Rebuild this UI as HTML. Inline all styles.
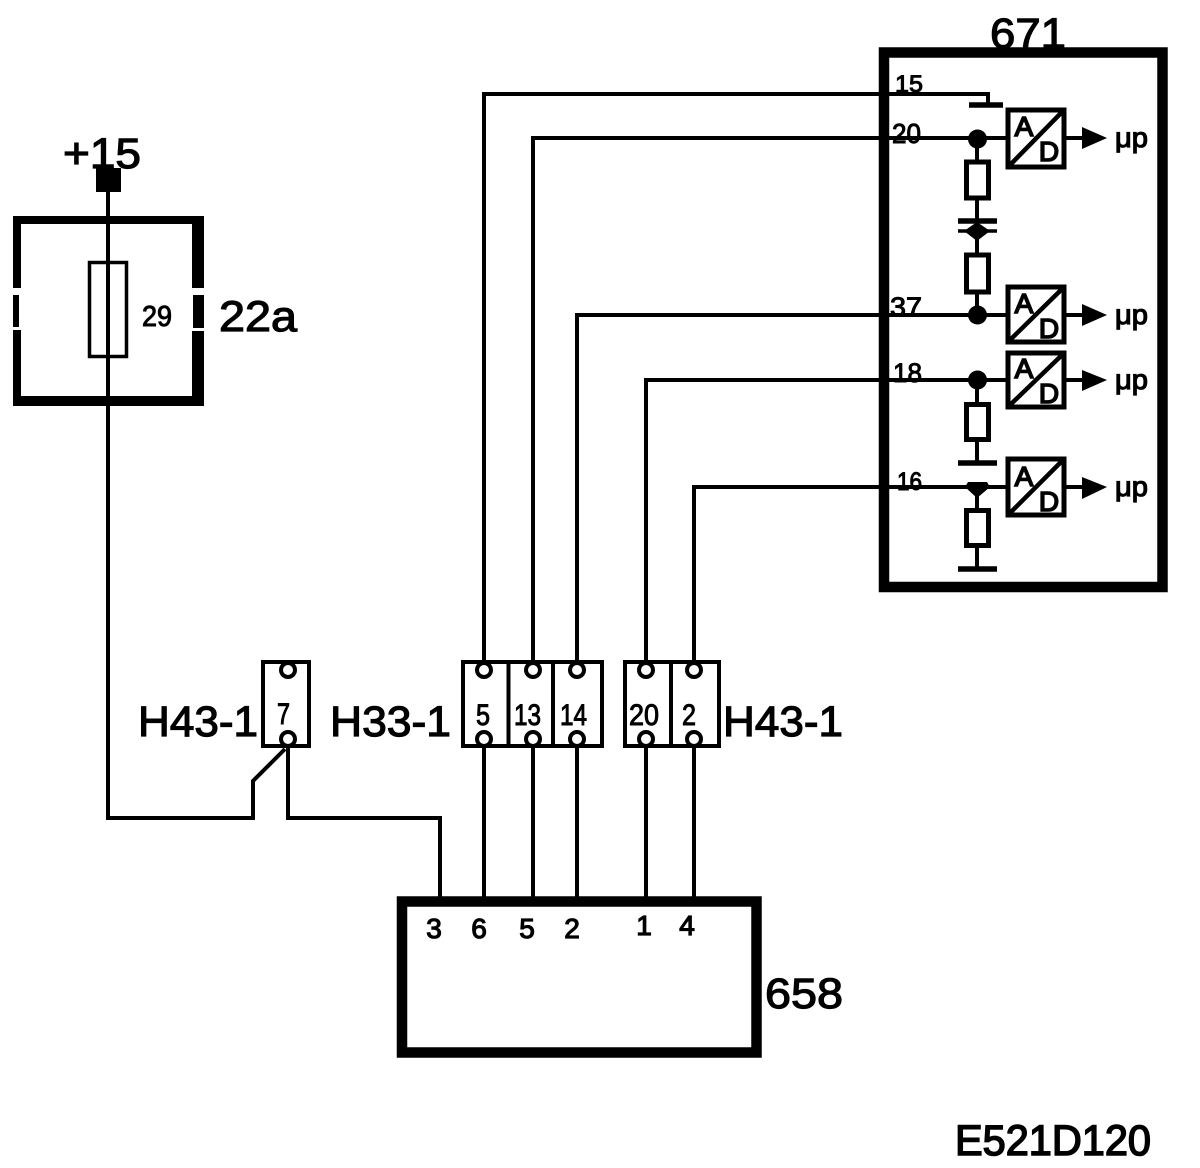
<!DOCTYPE html>
<html><head><meta charset="utf-8"><style>
html,body{margin:0;padding:0;background:#fff}
svg{display:block}
text{font-family:"Liberation Sans",sans-serif;fill:#000}
.b{stroke:#000;stroke-width:1.6px}
.m{stroke:#000;stroke-width:1.2px}
.s{stroke:#000;stroke-width:1px}
</style></head><body>
<svg width="1200" height="1168" viewBox="0 0 1200 1168" xmlns="http://www.w3.org/2000/svg">
<rect width="1200" height="1168" fill="#fff"/>

<!-- large labels -->
<text x="990" y="48" font-size="43" textLength="76" lengthAdjust="spacingAndGlyphs" class="m">671</text>
<text x="63" y="168" font-size="43" textLength="78" lengthAdjust="spacingAndGlyphs" class="m">+15</text>
<text x="219" y="331" font-size="43" textLength="78" lengthAdjust="spacingAndGlyphs" class="m">22a</text>
<text x="138" y="736" font-size="43" textLength="120" lengthAdjust="spacingAndGlyphs" class="m">H43-1</text>
<text x="330" y="736" font-size="43" textLength="121" lengthAdjust="spacingAndGlyphs" class="m">H33-1</text>
<text x="723" y="736" font-size="43" textLength="120" lengthAdjust="spacingAndGlyphs" class="m">H43-1</text>
<text x="765" y="1008" font-size="43" textLength="78" lengthAdjust="spacingAndGlyphs" class="m">658</text>
<text x="955" y="1155" font-size="43" textLength="196" lengthAdjust="spacingAndGlyphs" class="b">E521D120</text>

<!-- fuse box 22a -->
<g fill="#000">
<rect x="13" y="216" width="191" height="8"/>
<rect x="13" y="216" width="8" height="72"/>
<rect x="13" y="295" width="6" height="32"/>
<rect x="13" y="330" width="8" height="76"/>
<rect x="192" y="216" width="12" height="72"/>
<rect x="193" y="295" width="11" height="33"/>
<rect x="192" y="331" width="12" height="75"/>
<rect x="13" y="396" width="191" height="10"/>
</g>

<g fill="none" stroke="#000" stroke-linejoin="miter">
<!-- box 671 -->
<rect x="884" y="52.5" width="278.500" height="534.500" stroke-width="10.500"/>
<rect x="89.500" y="262.500" width="37" height="94" stroke-width="3.500"/>
<!-- 658 -->
<rect x="402" y="901.500" width="354.500" height="151" stroke-width="10.500"/>
<!-- wires -->
<g stroke-width="4">
<path d="M108 190V818H253V781L285 749"/>
<path d="M288 746V818H440V897"/>
<path d="M484 663V94H988V104"/>
<path d="M533 663V138H1006"/>
<path d="M577 663V315H1006"/>
<path d="M646 663V380H1006"/>
<path d="M694 663V487H1006"/>
<path d="M484 746V897M533 746V897M577 746V897M646 746V897M694 746V897"/>
<path d="M977 140V161M977 199V221M977 221V253M977 293V315M977 380V403M977 441V463M977 487V509M977 547V569"/>
<path d="M1066 138H1084M1066 315H1084M1066 380H1084M1066 487H1084"/>
</g>
<!-- grounds and cap -->
<g stroke-width="5.500">
<path d="M969 105H1003"/>
<path d="M958 221H997"/>
<path d="M958 463H997"/>
<path d="M958 569H997"/>
</g>
<path d="M958 231H997" stroke-width="3.500"/>
<!-- resistors -->
<g stroke-width="5" fill="#fff">
<rect x="966.500" y="162" width="22" height="36"/>
<rect x="966.500" y="255" width="22" height="37"/>
<rect x="966.500" y="404.500" width="22" height="35"/>
<rect x="966.500" y="510.500" width="22" height="35"/>
</g>
<!-- A/D boxes -->
<g stroke-width="5">
<rect x="1008" y="110" width="56" height="57"/>
<rect x="1008" y="287" width="56" height="55"/>
<rect x="1008" y="353" width="56" height="54"/>
<rect x="1008" y="459" width="56" height="56"/>
<path d="M1010 165L1062 112M1010 340L1062 289M1010 405L1062 355M1010 513L1062 461" stroke-width="4.500"/>
</g>
<!-- connectors -->
<g stroke-width="4">
<rect x="263" y="662" width="46" height="84"/>
<rect x="463" y="662" width="139" height="84"/>
<path d="M508.500 662V746M553 662V746"/>
<rect x="625" y="662" width="94" height="84"/>
<path d="M671 662V746"/>
</g>
<g stroke-width="4" fill="#fff">
<circle cx="288" cy="670" r="7"/><circle cx="288" cy="739" r="7"/>
<circle cx="484" cy="670" r="7"/><circle cx="484" cy="739" r="7"/>
<circle cx="533" cy="670" r="7"/><circle cx="533" cy="739" r="7"/>
<circle cx="577" cy="670" r="7"/><circle cx="577" cy="739" r="7"/>
<circle cx="646" cy="670" r="7"/><circle cx="646" cy="739" r="7"/>
<circle cx="694" cy="670" r="7"/><circle cx="694" cy="739" r="7"/>
</g>
</g>

<g fill="#000">
<rect x="96" y="168" width="25" height="24"/>
<!-- junction nodes -->
<circle cx="977.500" cy="139" r="9.500"/>
<path d="M977 222L990 231L977 241L964 231Z"/>
<circle cx="977.500" cy="315" r="9.500"/>
<circle cx="977.500" cy="380" r="9.500"/>
<path d="M968 482H987L990 487L977 498L965 487Z"/>
<!-- arrows -->
<path d="M1082 127L1107 138L1082 149Z"/>
<path d="M1082 304L1107 315L1082 326Z"/>
<path d="M1082 370L1107 380L1082 391Z"/>
<path d="M1082 477L1107 487L1082 499Z"/>
</g>

<!-- fuse value -->
<text x="142" y="326" font-size="29" textLength="30" lengthAdjust="spacingAndGlyphs" class="s">29</text>

<!-- connector labels -->
<g font-size="30" class="s">
<text x="277" y="724" textLength="13" lengthAdjust="spacingAndGlyphs">7</text>
<text x="476" y="725" textLength="14" lengthAdjust="spacingAndGlyphs">5</text>
<text x="514" y="725" textLength="27" lengthAdjust="spacingAndGlyphs">13</text>
<text x="560" y="725" textLength="27" lengthAdjust="spacingAndGlyphs">14</text>
<text x="629" y="725" textLength="30" lengthAdjust="spacingAndGlyphs">20</text>
<text x="682" y="725" textLength="14" lengthAdjust="spacingAndGlyphs">2</text>
</g>

<!-- 658 pin labels -->
<g font-size="28" text-anchor="middle" class="m">
<text x="434" y="938">3</text>
<text x="479" y="938">6</text>
<text x="527" y="938">5</text>
<text x="572" y="938">2</text>
<text x="644" y="935">1</text>
<text x="687" y="935">4</text>
</g>

<!-- 671 pin labels -->
<g class="s">
<text x="895" y="92" font-size="24" textLength="28" lengthAdjust="spacingAndGlyphs">15</text>
<text x="892" y="143" font-size="28" textLength="29" lengthAdjust="spacingAndGlyphs">20</text>
<text x="890" y="316" font-size="27" textLength="32" lengthAdjust="spacingAndGlyphs">37</text>
<text x="893" y="382" font-size="27" textLength="29" lengthAdjust="spacingAndGlyphs">18</text>
<text x="897" y="490" font-size="25" textLength="25" lengthAdjust="spacingAndGlyphs">16</text>
</g>

<!-- A D -->
<g font-size="28" text-anchor="middle" class="b">
<text x="1024" y="136">A</text><text x="1049" y="161">D</text>
<text x="1024" y="313">A</text><text x="1049" y="338">D</text>
<text x="1024" y="378">A</text><text x="1049" y="403">D</text>
<text x="1024" y="486">A</text><text x="1049" y="511">D</text>
</g>

<!-- μp -->
<g font-size="28" class="m">
<text x="1115" y="147" textLength="33" lengthAdjust="spacingAndGlyphs">μp</text>
<text x="1115" y="324" textLength="33" lengthAdjust="spacingAndGlyphs">μp</text>
<text x="1115" y="389" textLength="33" lengthAdjust="spacingAndGlyphs">μp</text>
<text x="1115" y="496" textLength="33" lengthAdjust="spacingAndGlyphs">μp</text>
</g>
</svg>
</body></html>
